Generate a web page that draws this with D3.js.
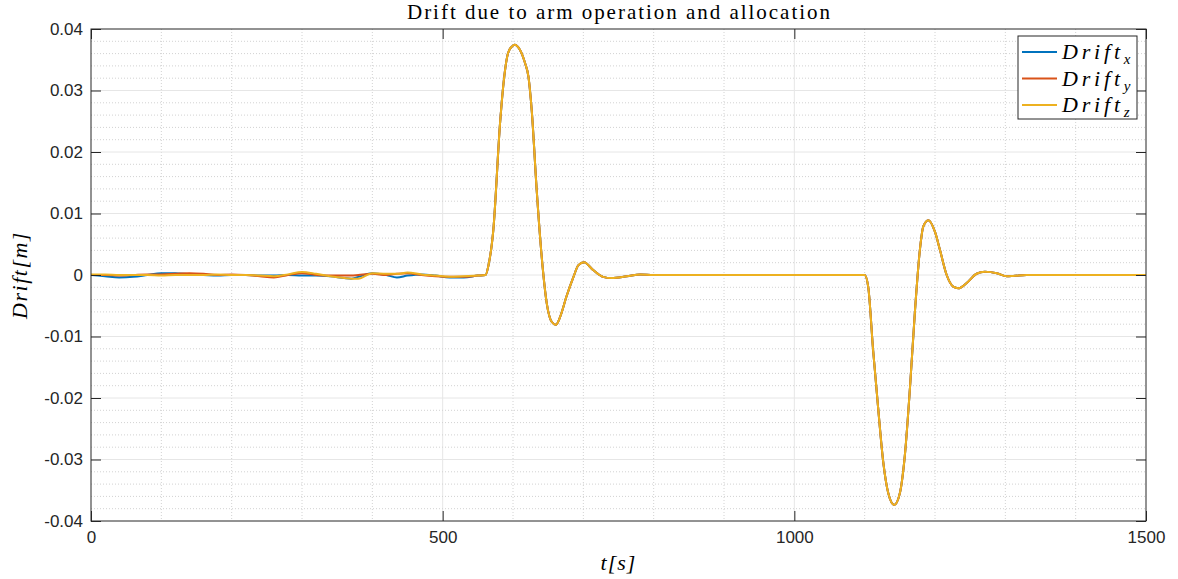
<!DOCTYPE html>
<html>
  <head>
    <script src="https://cdn.jsdelivr.net/npm/d3@7"></script>
    <style>
      body { margin: 0; background: #fff; }
    </style>
  </head>
  <body>
    <svg id="chart" width="1178" height="579"></svg>

    <script>
      // small wobble before the first manoeuvre, one list per axis (values in 1e-4 m)
      var tNoise = [0, 20, 40, 60, 80, 100, 120, 140, 160, 180, 200, 220, 240, 260, 280, 300, 320, 340, 360, 370, 380, 400, 420, 435, 450, 470, 490, 510, 530, 550];
      var noiseX = [0, -2, -4, -3, 0, 3, 3, 1, 0, -1, 0, 0, -1, -1, 0, -1, -1, -2, -5, -6, -3, 3, 0, -4, -1, 1, -1, -4, -4, -1];
      var noiseY = [0, 0, -1, 0, 1, 1, 2, 3, 2, 0, 1, 0, -2, -4, 0, 3, 0, -1, -1, -1, 0, 2, 0, 2, 3, 0, -2, -3, -3, -1];
      var noiseZ = [1, 1, 0, 0, 0, -1, 0, 0, 0, 1, 0, 0, -1, -2, 1, 5, 2, -2, -5, -6, -6, 3, 2, 2, 4, 1, -1, -3, -2, -1];

      // common response after 561 s, same for the three axes (values in 1e-4 m)
      var tMain = [561, 565, 572, 581.6, 586, 593, 598, 602, 610, 617, 622, 626.6, 633.7, 640.8, 648, 655, 661, 667, 676, 686, 693, 701, 714, 728, 740, 762, 781, 800,
                   1100, 1105, 1112, 1119, 1126.6, 1133.6, 1142, 1150, 1157, 1164.5, 1171.6, 1178.7, 1183.4, 1190.6, 1200, 1207, 1216.6, 1226, 1233, 1245, 1259, 1271, 1288, 1302, 1311, 1330, 1500];
      var mainVal = [0, 15, 73, 247, 306, 361, 371, 374.5, 366, 345, 322, 268, 138, 30, -46, -76, -81, -68, -35, -3, 16, 20.6, 8, -3, -5, -2, 1, 0,
                     0, -19, -122, -214, -306, -355, -374, -355, -295, -182, -57, 43, 79, 89, 70, 41, 0, -19, -21.7, -13, 2, 5.4, 3, -2, -1.6, 0, 0];

      var seriesNames = ["x", "y", "z"];
      var seriesColors = ["#0072BD", "#D95319", "#EDB120"];
      var noiseSets = [noiseX, noiseY, noiseZ];

      var yTicks = [0.04, 0.03, 0.02, 0.01, 0, -0.01, -0.02, -0.03, -0.04];
      var xTicks = [0, 500, 1000, 1500];

      var svg = d3.select("#chart");
      var mL = 91, mR = 1146, mT = 29, mB = 521;

      var x = d3.scaleLinear().domain([0, 1500]).range([mL, mR]);
      var y = d3.scaleLinear().domain([-0.04, 0.04]).range([mB, mT]);

      // grid: minor dotted, major faint solid
      var g = svg.append("g");
      d3.range(100, 1500, 100).forEach(function(v) {
        var major = v % 500 == 0;
        g.append("line").attr("x1", x(v)).attr("x2", x(v)).attr("y1", mT).attr("y2", mB)
          .attr("stroke", major ? "#e6e6e6" : "#d2d2d2")
          .attr("stroke-dasharray", major ? null : "1,2")
          .attr("stroke-width", 1);
      });
      d3.range(-19, 20).forEach(function(k) {
        var v = k * 0.002;
        var major = k % 5 == 0;
        g.append("line").attr("x1", mL).attr("x2", mR).attr("y1", y(v)).attr("y2", y(v))
          .attr("stroke", major ? "#e6e6e6" : "#d2d2d2")
          .attr("stroke-dasharray", major ? null : "1,2")
          .attr("stroke-width", 1);
      });

      // lines
      var line = d3.line()
        .x(function(d) { return x(d[0]); })
        .y(function(d) { return y(d[1]); })
        .curve(d3.curveMonotoneX);

      seriesNames.forEach(function(name, i) {
        var pts = tNoise.map(function(t, k) { return [t, noiseSets[i][k] * 1e-4]; })
          .concat(tMain.map(function(t, k) { return [t, mainVal[k] * 1e-4]; }));
        svg.append("path").datum(pts)
          .attr("fill", "none")
          .attr("stroke", seriesColors[i])
          .attr("stroke-width", 2)
          .attr("d", line);
      });

      // box and ticks
      svg.append("rect").attr("x", mL).attr("y", mT)
        .attr("width", mR - mL).attr("height", mB - mT)
        .attr("fill", "none").attr("stroke", "#262626").attr("stroke-width", 1);

      var axL = d3.axisLeft(y).tickValues(yTicks).tickSizeInner(-10).tickSizeOuter(0)
        .tickPadding(8).tickFormat(function(d) { return d == 0 ? "0" : d3.format(".2f")(d).replace("−", "-"); });
      var axR = d3.axisRight(y).tickValues(yTicks).tickSizeInner(-10).tickSizeOuter(0).tickFormat("");
      var axB = d3.axisBottom(x).tickValues(xTicks).tickSizeInner(-10).tickSizeOuter(0).tickPadding(10).tickFormat(d3.format("d"));
      var axT = d3.axisTop(x).tickValues(xTicks).tickSizeInner(-10).tickSizeOuter(0).tickFormat("");

      [[axL, "translate(" + mL + ",0)"], [axR, "translate(" + mR + ",0)"],
       [axB, "translate(0," + mB + ")"], [axT, "translate(0," + mT + ")"]].forEach(function(a) {
        var ga = svg.append("g").attr("transform", a[1]).call(a[0]);
        ga.select(".domain").remove();
        ga.selectAll("line").attr("stroke", "#262626");
        ga.selectAll("text").attr("fill", "#262626")
          .style("font-family", "'Liberation Sans', Arial, sans-serif").style("font-size", "17px");
      });

      // labels
      svg.append("text").attr("x", (mL + mR) / 2).attr("y", 19)
        .attr("text-anchor", "middle")
        .attr("textLength", 423).attr("lengthAdjust", "spacing")
        .style("font-family", "'Liberation Serif', 'DejaVu Serif', serif").style("font-size", "21px")
        .attr("fill", "#000")
        .text("Drift due to arm operation and allocation");

      svg.append("text").attr("x", (mL + mR) / 2).attr("y", 570)
        .attr("text-anchor", "middle")
        .style("font-family", "'Liberation Serif', serif").style("font-size", "22px").style("font-style", "italic")
        .style("letter-spacing", "1px")
        .text("t[s]");

      svg.append("text").attr("transform", "translate(27," + y(0) + ") rotate(-90)")
        .attr("text-anchor", "middle")
        .style("font-family", "'Liberation Serif', serif").style("font-size", "22px").style("font-style", "italic")
        .style("letter-spacing", "1.5px")
        .text("Drift[m]");

      // legend
      var lg = svg.append("g");
      lg.append("rect").attr("x", 1018).attr("y", 36).attr("width", 119).attr("height", 83)
        .attr("fill", "#fff").attr("stroke", "#262626").attr("stroke-width", 1);
      seriesNames.forEach(function(name, i) {
        var yy = 52 + i * 26.5;
        lg.append("line").attr("x1", 1022).attr("x2", 1057).attr("y1", yy).attr("y2", yy)
          .attr("stroke", seriesColors[i]).attr("stroke-width", 2);
        var tx = lg.append("text").attr("x", 1062).attr("y", yy + 7)
          .style("font-family", "'Liberation Serif', serif").style("font-size", "22px").style("font-style", "italic");
        tx.append("tspan").attr("textLength", 58).attr("lengthAdjust", "spacing").text("Drift");
        tx.append("tspan").attr("dy", 5).style("font-size", "15px").text(name);
      });
    </script>
  </body>
</html>
